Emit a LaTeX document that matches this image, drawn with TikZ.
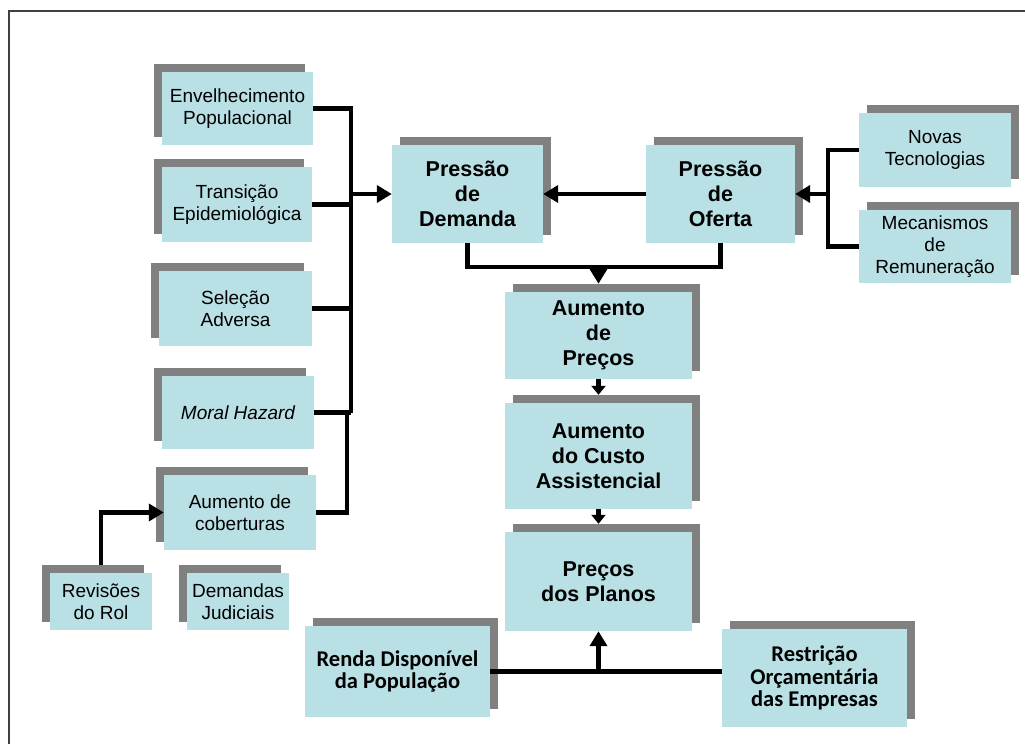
\documentclass[tikz,border=0pt]{standalone}
\usepackage{fontspec}
\setmainfont{Liberation Sans}
\newfontfamily\calfont{Carlito}
\usetikzlibrary{arrows.meta,shadows}
\definecolor{boxblue}{RGB}{185,224,228}
\definecolor{shadowgray}{RGB}{128,128,128}
\definecolor{framegray}{RGB}{64,64,64}

\begin{document}
\begin{tikzpicture}[x=1pt,y=-1pt]
\tikzstyle{every node}+=[inner sep=0pt]
\tikzstyle{box}=[fill=boxblue, align=center]
\tikzstyle{shl}=[general shadow={fill=shadowgray, shadow xshift=-8pt, shadow yshift=8pt}]
\tikzstyle{shr}=[general shadow={fill=shadowgray, shadow xshift=8pt, shadow yshift=8pt}]
\tikzstyle{txt}=[font=\fontsize{19}{22}\selectfont]
\tikzstyle{heavy}=[font=\fontsize{21.5}{25}\selectfont\bfseries]
\tikzstyle{carl}=[font=\fontsize{22.5}{22.5}\selectfont\calfont\bfseries]
\tikzstyle{link}=[line width=4.3pt]
\tikzstyle{arr}=[link, -{Triangle[length=15pt,width=17pt]}]
\tikzstyle{sarr}=[link, -{Triangle[length=9pt,width=14pt]}]

\useasboundingbox (0,0) rectangle (1025,744);
\draw [framegray, line width=2pt] (1025,11) -- (9,11) -- (9,744);

\node (env) [box, shl, txt, minimum width=151pt, minimum height=73pt] at (237.5,108.5) {Envelhecimento\\Populacional};
\node (trans) [box, shl, txt, minimum width=150pt, minimum height=75pt] at (237,204.5) {Transição\\Epidemiológica};
\node (sel) [box, shl, txt, minimum width=153pt, minimum height=75pt] at (235.5,308.5) {Seleção\\Adversa};
\node (moral) [box, shl, txt, minimum width=152pt, minimum height=73pt] at (238,412.5) {\itshape Moral Hazard};
\node (cob) [box, shl, txt, minimum width=152pt, minimum height=75pt] at (240,512.5) {Aumento de\\coberturas};
\node (rev) [box, shl, txt, minimum width=102pt, minimum height=57pt] at (101,601.5) {Revisões\\do Rol};
\node (jud) [box, shl, txt, minimum width=102pt, minimum height=57pt] at (238,601.5) {Demandas\\Judiciais};

\node (dem) [box, shr, heavy, minimum width=151pt, minimum height=98pt] at (467.5,194) {Pressão\\de\\Demanda};
\node (ofe) [box, shr, heavy, minimum width=149pt, minimum height=98pt] at (720.5,194) {Pressão\\de\\Oferta};
\node (nov) [box, shr, txt, minimum width=152pt, minimum height=74pt] at (935,150) {Novas\\Tecnologias};
\node (mec) [box, shr, txt, minimum width=152pt, minimum height=73pt] at (935,246.5) {Mecanismos\\de\\Remuneração};

\node (prc) [box, shr, heavy, minimum width=187pt, minimum height=87pt] at (598.5,335.5) {Aumento\\de\\Preços};
\node (cus) [box, shr, heavy, minimum width=187pt, minimum height=106pt] at (598.5,456) {Aumento\\do Custo\\Assistencial};
\node (pla) [box, shr, heavy, minimum width=187pt, minimum height=99pt] at (598.5,581.5) {Preços\\dos Planos};

\node (ren) [box, shr, carl, minimum width=185pt, minimum height=91pt] at (397.5,671.5) {Renda Disponível\\da População};
\node (res) [box, shr, carl, minimum width=185pt, minimum height=98pt] at (814.5,678) {Restrição\\Orçamentária\\das Empresas};

\coordinate (busL) at (351,412.5);
\coordinate (busC) at (347,412.5);
\coordinate (busD) at (598.5,267);
\coordinate (busO) at (828,194);

\draw [link] (env.east) -| (busL);
\draw [link] (trans.east) -- (trans.east -| busL);
\draw [link] (sel.east) -- (sel.east -| busL);
\draw [link] (moral.east) -- (busL);
\draw [link] (cob.east) -| (busC);
\draw [arr] (dem.west -| busL) -- (dem.west);
\draw [arr] ([yshift=8pt]rev.north) |- (cob.west);

\draw [arr] (ofe.west) -- (dem.east);
\draw [link] (nov.west) -| (busO) |- (mec.west);
\draw [arr] (busO) -- (ofe.east);

\draw [link] (dem.south) |- (busD) -| (ofe.south);
\draw [arr] (busD) -- ([yshift=8pt]prc.north);
\draw [sarr] (prc.south) -- ([yshift=8pt]cus.north);
\draw [sarr] (cus.south) -- ([yshift=8pt]pla.north);

\draw [link] (ren.east) -- (ren.east -| res.west);
\draw [arr] (ren.east -| pla.south) -- (pla.south);
\end{tikzpicture}
\end{document}
